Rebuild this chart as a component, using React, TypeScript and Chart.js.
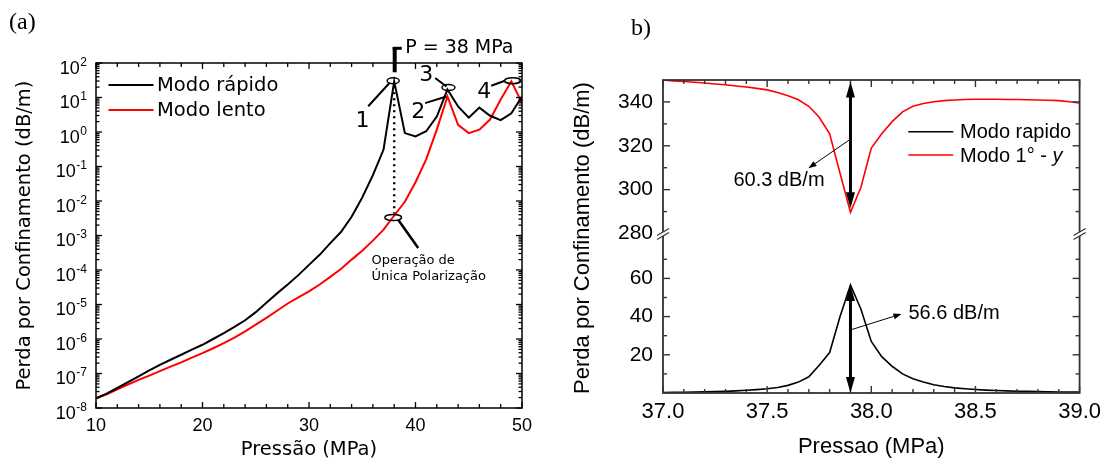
import React, { useEffect, useRef } from 'react';
import { Chart, registerables } from 'chart.js';

Chart.register(...registerables);

// ---------------- Panel (a) data ----------------
const PRESSURE_A = [10, 11, 12, 13, 14, 15, 16, 17, 18, 19, 20, 21, 22, 23, 24, 25, 26, 27, 28, 29, 30,
  31, 32, 33, 34, 35, 36, 37, 38, 39, 40, 41, 42, 43, 44, 45, 46, 47, 48, 49, 50];
const FAST_A = [1.9e-8, 2.6e-8, 3.8e-8, 5.6e-8, 8.3e-8, 1.23e-7, 1.78e-7, 2.5e-7, 3.5e-7, 4.9e-7, 6.8e-7,
  1.0e-6, 1.48e-6, 2.24e-6, 3.5e-6, 6.0e-6, 1.12e-5, 2.1e-5, 3.8e-5, 7.1e-5, 1.41e-4,
  2.75e-4, 6.0e-4, 1.26e-3, 3.5e-3, 1.26e-2, 5.6e-2, 0.31, 29.5, 0.93, 0.74,
  1.05, 2.8, 17, 5.5, 2.6, 5.1, 2.95, 2.2, 3.5, 10.7];
const SLOW_A = [1.9e-8, 2.5e-8, 3.5e-8, 4.8e-8, 6.5e-8, 8.7e-8, 1.17e-7, 1.58e-7, 2.1e-7, 2.9e-7, 3.9e-7,
  5.4e-7, 7.6e-7, 1.1e-6, 1.66e-6, 2.6e-6, 4.1e-6, 6.6e-6, 1.07e-5, 1.62e-5, 2.4e-5,
  3.8e-5, 6.3e-5, 1.07e-4, 2.0e-4, 3.6e-4, 7.1e-4, 1.48e-3, 3.8e-3, 9.5e-3, 3.5e-2,
  0.16, 1.17, 10.7, 1.62, 0.93, 1.17, 2.3, 8.7, 29.5, 6.9];
const SERIES_A = ['Modo rápido', 'Modo lento'];
const X_MAJOR_A = [10, 20, 30, 40, 50];
const X_MINOR_A = [12, 14, 16, 18, 22, 24, 26, 28, 32, 34, 36, 38, 42, 44, 46, 48];
const Y_EXP_A = [-8, -7, -6, -5, -4, -3, -2, -1, 0, 1, 2];

// ---------------- Panel (b) data ----------------
const PRESSURE_B = [37.0, 37.05, 37.1, 37.15, 37.2, 37.25, 37.3, 37.35, 37.4, 37.45, 37.5, 37.55, 37.6, 37.65,
  37.7, 37.75, 37.8, 37.85, 37.9, 37.95, 38.0, 38.05, 38.1, 38.15, 38.2, 38.25, 38.3, 38.35, 38.4, 38.45,
  38.5, 38.55, 38.6, 38.65, 38.7, 38.75, 38.8, 38.85, 38.9, 38.95, 39.0];
const RAPIDO_B = [0.3, 0.35, 0.4, 0.5, 0.6, 0.7, 0.85, 1.1, 1.4, 1.75, 2.2, 2.9, 4.0, 5.7, 8.5, 14.5, 21.2,
  40, 56.6, 44, 27, 19, 14, 10, 7.5, 5.8, 4.3, 3.4, 2.7, 2.2, 1.8, 1.5, 1.3, 1.1, 0.95, 0.85, 0.75, 0.65,
  0.55, 0.5, 0.45];
const MODO1Y_B = [350, 349.6, 349.3, 349.0, 348.6, 348.2, 347.8, 347.3, 346.8, 346.2, 345.5, 344.3, 342.8,
  341.0, 338.0, 333.0, 325.5, 307.5, 289.7, 301, 319, 325.5, 331, 335.5, 338, 339.3, 340.1, 340.6, 340.9,
  341.1, 341.2, 341.2, 341.2, 341.1, 341.1, 341.0, 340.9, 340.8, 340.6, 340.1, 339.5];
const SERIES_B = ['Modo rapido', 'Modo 1° - '];
const X_TICKS_B = [37.0, 37.5, 38.0, 38.5, 39.0];
const X_MINOR_B = [37.1, 37.2, 37.3, 37.4, 37.6, 37.7, 37.8, 37.9, 38.1, 38.2, 38.3, 38.4, 38.6, 38.7, 38.8, 38.9];
const Y_HIGH_LABELS = [280, 300, 320, 340];
const Y_HIGH_MAJOR = [300, 320, 340];
const Y_HIGH_MINOR = [290, 310, 330];
const Y_LOW_LABELS = [20, 40, 60];
const Y_LOW_MINOR = [10, 30, 50, 70];

const SANS_A = '"DejaVu Sans", sans-serif';
const ARIAL = '"Liberation Sans", Arial, sans-serif';
const SERIF = '"Liberation Serif", "Times New Roman", serif';

function line(ctx: CanvasRenderingContext2D, x1: number, y1: number, x2: number, y2: number) {
  ctx.beginPath();
  ctx.moveTo(x1, y1);
  ctx.lineTo(x2, y2);
  ctx.stroke();
}

function ellipse(ctx: CanvasRenderingContext2D, cx: number, cy: number, rx: number, ry: number) {
  ctx.beginPath();
  ctx.ellipse(cx, cy, rx, ry, 0, 0, Math.PI * 2);
  ctx.stroke();
}

function thinArrow(ctx: CanvasRenderingContext2D, x1: number, y1: number, x2: number, y2: number) {
  const ang = Math.atan2(y2 - y1, x2 - x1);
  const hl = 8, hw = 3;
  const bx = x2 - hl * Math.cos(ang), by = y2 - hl * Math.sin(ang);
  ctx.lineWidth = 1;
  line(ctx, x1, y1, bx, by);
  ctx.beginPath();
  ctx.moveTo(x2, y2);
  ctx.lineTo(bx + hw * Math.sin(ang), by - hw * Math.cos(ang));
  ctx.lineTo(bx - hw * Math.sin(ang), by + hw * Math.cos(ang));
  ctx.closePath();
  ctx.fill();
}

function doubleArrow(ctx: CanvasRenderingContext2D, x: number, yTop: number, yBot: number) {
  const hl = 16, hw = 9;
  ctx.lineWidth = 3;
  line(ctx, x, yTop + hl - 2, x, yBot - hl + 2);
  ctx.beginPath();
  ctx.moveTo(x, yTop);
  ctx.lineTo(x - hw / 2, yTop + hl);
  ctx.lineTo(x + hw / 2, yTop + hl);
  ctx.closePath();
  ctx.fill();
  ctx.beginPath();
  ctx.moveTo(x, yBot);
  ctx.lineTo(x - hw / 2, yBot - hl);
  ctx.lineTo(x + hw / 2, yBot - hl);
  ctx.closePath();
  ctx.fill();
}

const panelAPlugin = {
  id: 'panelA',
  afterDraw(chart: any) {
    const ctx: CanvasRenderingContext2D = chart.ctx;
    const { left, right, top, bottom } = chart.chartArea;
    const xs = chart.scales.x, ys = chart.scales.y;
    const px = (v: number) => xs.getPixelForValue(v);
    const py = (v: number) => ys.getPixelForValue(v);
    ctx.save();
    ctx.strokeStyle = '#000';
    ctx.fillStyle = '#000';
    // frame
    ctx.lineWidth = 1.5;
    ctx.strokeRect(left, top, right - left, bottom - top);
    // x ticks (inward, bottom & top)
    ctx.lineWidth = 1.3;
    for (const v of X_MAJOR_A) {
      line(ctx, px(v), bottom, px(v), bottom - 6);
      line(ctx, px(v), top, px(v), top + 6);
    }
    for (const v of X_MINOR_A) {
      line(ctx, px(v), bottom, px(v), bottom - 4);
      line(ctx, px(v), top, px(v), top + 4);
    }
    // y ticks (log)
    for (const e of Y_EXP_A) {
      const y = py(Math.pow(10, e));
      line(ctx, left, y, left + 6, y);
      line(ctx, right, y, right - 6, y);
      if (e < 2) {
        for (let m = 2; m <= 9; m++) {
          const ym = py(m * Math.pow(10, e));
          line(ctx, left, ym, left + 3.5, ym);
          line(ctx, right, ym, right - 3.5, ym);
        }
      }
    }
    // y labels 10^n
    for (const e of Y_EXP_A) {
      const y = py(Math.pow(10, e));
      const rx = left - 9;
      const es = String(e);
      ctx.textAlign = 'right';
      ctx.textBaseline = 'alphabetic';
      ctx.font = '12px ' + ARIAL;
      const ew = ctx.measureText(es).width;
      ctx.fillText(es, rx, y + 2.5);
      ctx.font = '18px ' + ARIAL;
      ctx.fillText('10', rx - ew - 0.5, y + 10.5);
    }
    // legend
    ctx.lineWidth = 2;
    ctx.font = '19.5px ' + SANS_A;
    ctx.textAlign = 'left';
    ctx.textBaseline = 'middle';
    const legY = [85, 110];
    const legColors = ['#000', '#ff0000'];
    SERIES_A.forEach((name, i) => {
      ctx.strokeStyle = legColors[i];
      line(ctx, 108.5, legY[i], 153.5, legY[i]);
      ctx.fillStyle = '#000';
      ctx.fillText(name, 157, legY[i] + 1);
    });
    ctx.strokeStyle = '#000';
    ctx.fillStyle = '#000';

    // annotations
    const i38 = PRESSURE_A.indexOf(38), i43 = PRESSURE_A.indexOf(43), i49 = PRESSURE_A.indexOf(49);
    const p1 = { x: px(38), y: py(FAST_A[i38]) };
    const p3 = { x: px(43), y: py(FAST_A[i43]) };
    const p2 = { x: px(43), y: py(SLOW_A[i43]) };
    const p4 = { x: px(49), y: py(SLOW_A[i49]) };
    const ps = { x: px(38), y: py(SLOW_A[i38]) };

    ctx.lineWidth = 1.5;
    ellipse(ctx, p1.x - 1, p1.y - 0.5, 6, 3);
    ellipse(ctx, p3.x + 1, p3.y - 2, 6.5, 3);
    ellipse(ctx, p4.x + 1.3, p4.y - 0.6, 8, 3);
    ellipse(ctx, ps.x - 1, ps.y + 2, 8.3, 3);

    ctx.lineWidth = 2;
    line(ctx, p1.x - 26, p1.y + 25, p1.x - 4.5, p1.y + 1.5);
    line(ctx, p3.x - 12.3, p3.y - 11.6, p3.x - 1, p3.y - 3);
    line(ctx, p2.x - 22.3, p2.y + 6.6, p2.x - 1, p2.y);
    line(ctx, p4.x - 20.2, p4.y + 4.4, p4.x - 6.5, p4.y - 0.6);
    ctx.lineWidth = 2.5;
    line(ctx, ps.x + 4, ps.y + 4.2, ps.x + 24, ps.y + 32.5);

    ctx.font = '22px ' + SANS_A;
    ctx.textAlign = 'center';
    ctx.textBaseline = 'middle';
    ctx.fillText('1', p1.x - 31.6, p1.y + 40);
    ctx.fillText('3', p3.x - 21.3, p3.y - 14);
    ctx.fillText('2', p2.x - 29.3, p2.y + 16);
    ctx.fillText('4', p4.x - 27.2, p4.y + 11);

    // dotted vertical line
    ctx.lineWidth = 2.5;
    ctx.setLineDash([2, 4]);
    line(ctx, p1.x, p1.y + 5, p1.x, ps.y - 2);
    ctx.setLineDash([]);

    // P marker
    ctx.lineWidth = 4;
    line(ctx, p1.x + 0.5, p1.y - 9, p1.x + 0.5, 47);
    ctx.lineWidth = 3;
    line(ctx, p1.x - 1.5, 48.3, p1.x + 7.5, 48.3);
    ctx.font = '19px ' + SANS_A;
    ctx.textAlign = 'left';
    ctx.fillText('P = 38 MPa', p1.x + 11, 48);

    ctx.font = '13px ' + SANS_A;
    ctx.fillText('Operação de', ps.x - 22.6, ps.y + 45.5);
    ctx.fillText('Única Polarização', ps.x - 22.6, ps.y + 61.5);

    // panel label
    ctx.font = '24px ' + SERIF;
    ctx.fillText('(a)', 9, 23);
    ctx.restore();
  },
};

const panelBPlugin = {
  id: 'panelB',
  afterDraw(chart: any) {
    const ctx: CanvasRenderingContext2D = chart.ctx;
    const { left, right, top, bottom } = chart.chartArea;
    const xs = chart.scales.x, yL = chart.scales.yLow, yH = chart.scales.yHigh;
    const px = (v: number) => xs.getPixelForValue(v);
    const yb = yH.bottom;
    const frame = '#333';
    ctx.save();
    ctx.strokeStyle = frame;
    ctx.fillStyle = frame;
    ctx.lineWidth = 1.8;
    ctx.strokeRect(left, top, right - left, bottom - top);
    // ticks
    ctx.lineWidth = 1.4;
    for (const v of X_TICKS_B) {
      line(ctx, px(v), bottom, px(v), bottom - 7);
      line(ctx, px(v), top, px(v), top + 7);
    }
    for (const v of X_MINOR_B) {
      line(ctx, px(v), bottom, px(v), bottom - 4);
      line(ctx, px(v), top, px(v), top + 4);
    }
    const yTicks: [number, number][] = [];
    Y_HIGH_MAJOR.forEach((v) => yTicks.push([yH.getPixelForValue(v), 7]));
    Y_HIGH_MINOR.forEach((v) => yTicks.push([yH.getPixelForValue(v), 4]));
    Y_LOW_LABELS.forEach((v) => yTicks.push([yL.getPixelForValue(v), 7]));
    Y_LOW_MINOR.forEach((v) => yTicks.push([yL.getPixelForValue(v), 4]));
    for (const [y, len] of yTicks) {
      line(ctx, left, y, left + len, y);
      line(ctx, right, y, right - len, y);
    }
    // axis breaks
    for (const ax of [left, right]) {
      ctx.fillStyle = '#fff';
      ctx.beginPath();
      ctx.moveTo(ax - 6, yb + 2);
      ctx.lineTo(ax + 6, yb - 5);
      ctx.lineTo(ax + 6, yb - 1);
      ctx.lineTo(ax - 6, yb + 6);
      ctx.closePath();
      ctx.fill();
      ctx.strokeStyle = frame;
      ctx.lineWidth = 1.2;
      line(ctx, ax - 6, yb + 2, ax + 6, yb - 5);
      line(ctx, ax - 6, yb + 6, ax + 6, yb - 1);
    }

    // y title
    ctx.fillStyle = '#000';
    ctx.save();
    ctx.translate(23, 238);
    ctx.rotate(-Math.PI / 2);
    ctx.font = '22px ' + ARIAL;
    ctx.textAlign = 'center';
    ctx.textBaseline = 'middle';
    ctx.fillText('Perda por Confinamento (dB/m)', 0, 0);
    ctx.restore();

    // arrows
    ctx.strokeStyle = '#000';
    ctx.fillStyle = '#000';
    const iMin = PRESSURE_B.indexOf(37.9);
    const ax = px(PRESSURE_B[iMin]);
    doubleArrow(ctx, ax, yH.getPixelForValue(350) + 1.5, yH.getPixelForValue(MODO1Y_B[iMin]) - 4);
    doubleArrow(ctx, ax, yL.getPixelForValue(RAPIDO_B[iMin]), yL.getPixelForValue(0));
    thinArrow(ctx, ax - 1, yH.getPixelForValue(322.7), ax - 42, yH.getPixelForValue(309.8));
    thinArrow(ctx, ax, yL.getPixelForValue(33), ax + 51, yL.getPixelForValue(41.4));
    ctx.font = '20px ' + ARIAL;
    ctx.textBaseline = 'middle';
    ctx.textAlign = 'center';
    ctx.fillText('60.3 dB/m', ax - 71.5, yH.getPixelForValue(304.4));
    ctx.textAlign = 'left';
    ctx.fillText('56.6 dB/m', ax + 58, yL.getPixelForValue(41.4));

    // legend
    const legY = [131.7, 155];
    const legColors = ['#000', '#ff0000'];
    ctx.lineWidth = 1.5;
    SERIES_B.forEach((name, i) => {
      ctx.strokeStyle = legColors[i];
      line(ctx, 348.3, legY[i], 393.3, legY[i]);
      ctx.fillStyle = '#000';
      ctx.font = '20px ' + ARIAL;
      ctx.textAlign = 'left';
      ctx.fillText(name, 400, legY[i] + 1);
      if (i === 1) {
        const w = ctx.measureText(name).width;
        ctx.font = 'italic 20px ' + ARIAL;
        ctx.fillText('y', 400 + w, legY[i] + 1);
      }
    });

    ctx.font = '24px ' + SERIF;
    ctx.textAlign = 'left';
    ctx.fillText('b)', 71, 29);
    ctx.restore();
  },
};

export default function App() {
  const refA = useRef<HTMLCanvasElement | null>(null);
  const refB = useRef<HTMLCanvasElement | null>(null);

  useEffect(() => {
    const chartA = new Chart(refA.current as HTMLCanvasElement, {
      type: 'line',
      data: {
        datasets: [
          {
            label: SERIES_A[0],
            data: PRESSURE_A.map((x, i) => ({ x, y: FAST_A[i] })),
            borderColor: '#000',
            borderWidth: 2,
            pointRadius: 0,
            tension: 0,
          },
          {
            label: SERIES_A[1],
            data: PRESSURE_A.map((x, i) => ({ x, y: SLOW_A[i] })),
            borderColor: '#ff0000',
            borderWidth: 2,
            pointRadius: 0,
            tension: 0,
          },
        ],
      },
      options: {
        animation: false,
        responsive: false,
        devicePixelRatio: 1,
        layout: { padding: { left: 0, right: 38, top: 63, bottom: 0 } },
        plugins: { legend: { display: false }, tooltip: { enabled: false } },
        scales: {
          x: {
            type: 'linear',
            min: 10,
            max: 50,
            afterBuildTicks: (s: any) => { s.ticks = X_MAJOR_A.map((v) => ({ value: v })); },
            ticks: { font: { family: ARIAL, size: 18 }, color: '#000', padding: 7, maxRotation: 0, autoSkip: false },
            grid: { display: false, drawTicks: false },
            border: { display: false },
            title: { display: true, text: 'Pressão (MPa)', font: { family: SANS_A, size: 19.5 }, color: '#000', padding: { top: 0, bottom: 2 } },
            afterFit: (s: any) => { s.height = 56; },
          },
          y: {
            type: 'logarithmic',
            min: 1e-8,
            max: 100,
            afterBuildTicks: (s: any) => { s.ticks = Y_EXP_A.map((e) => ({ value: Math.pow(10, e) })); },
            ticks: { display: false },
            grid: { display: false, drawTicks: false },
            border: { display: false },
            title: { display: true, text: 'Perda por Confinamento (dB/m)', font: { family: SANS_A, size: 19.5 }, color: '#000', padding: { top: 13, bottom: 0 } },
            afterFit: (s: any) => { s.width = 96; },
          },
        },
      } as any,
      plugins: [panelAPlugin],
    });

    const chartB = new Chart(refB.current as HTMLCanvasElement, {
      type: 'line',
      data: {
        datasets: [
          {
            label: SERIES_B[0],
            data: PRESSURE_B.map((x, i) => ({ x, y: RAPIDO_B[i] })),
            borderColor: '#000',
            borderWidth: 1.6,
            pointRadius: 0,
            tension: 0,
            yAxisID: 'yLow',
          },
          {
            label: SERIES_B[1] + 'y',
            data: PRESSURE_B.map((x, i) => ({ x, y: MODO1Y_B[i] })),
            borderColor: '#ff0000',
            borderWidth: 1.6,
            pointRadius: 0,
            tension: 0,
            yAxisID: 'yHigh',
          },
        ],
      },
      options: {
        animation: false,
        responsive: false,
        devicePixelRatio: 1,
        layout: { padding: { left: 0, right: 23, top: 80, bottom: 0 } },
        plugins: { legend: { display: false }, tooltip: { enabled: false } },
        scales: {
          x: {
            type: 'linear',
            min: 37,
            max: 39,
            afterBuildTicks: (s: any) => { s.ticks = X_TICKS_B.map((v) => ({ value: v })); },
            ticks: { callback: (v: any) => Number(v).toFixed(1), font: { family: ARIAL, size: 22 }, color: '#000', padding: 6, maxRotation: 0, autoSkip: false },
            grid: { display: false, drawTicks: false },
            border: { display: false },
            title: { display: true, text: 'Pressao (MPa)', font: { family: ARIAL, size: 22 }, color: '#000', padding: { top: 0, bottom: 4 } },
            afterFit: (s: any) => { s.height = 71; },
          },
          yLow: {
            type: 'linear',
            position: 'left',
            stack: 'b',
            stackWeight: 160,
            min: 0,
            max: 83.5,
            afterBuildTicks: (s: any) => { s.ticks = Y_LOW_LABELS.map((v) => ({ value: v })); },
            ticks: { font: { family: ARIAL, size: 21 }, color: '#000', padding: 10 },
            grid: { display: false, drawTicks: false },
            border: { display: false },
            afterFit: (s: any) => { s.width = 103; },
          },
          yHigh: {
            type: 'linear',
            position: 'left',
            stack: 'b',
            stackWeight: 154,
            min: 280,
            max: 350,
            afterBuildTicks: (s: any) => { s.ticks = Y_HIGH_LABELS.map((v) => ({ value: v })); },
            ticks: { font: { family: ARIAL, size: 21 }, color: '#000', padding: 10 },
            grid: { display: false, drawTicks: false },
            border: { display: false },
            afterFit: (s: any) => { s.width = 103; },
          },
        },
      } as any,
      plugins: [panelBPlugin],
    });

    return () => {
      chartA.destroy();
      chartB.destroy();
    };
  }, []);

  return (
    <div style={{ position: 'absolute', left: 0, top: 0, width: 1107, height: 464, background: '#fff' }}>
      <canvas ref={refA} width={560} height={464} style={{ position: 'absolute', left: 0, top: 0, width: 560, height: 464 }} />
      <canvas ref={refB} width={547} height={464} style={{ position: 'absolute', left: 560, top: 0, width: 547, height: 464 }} />
    </div>
  );
}
